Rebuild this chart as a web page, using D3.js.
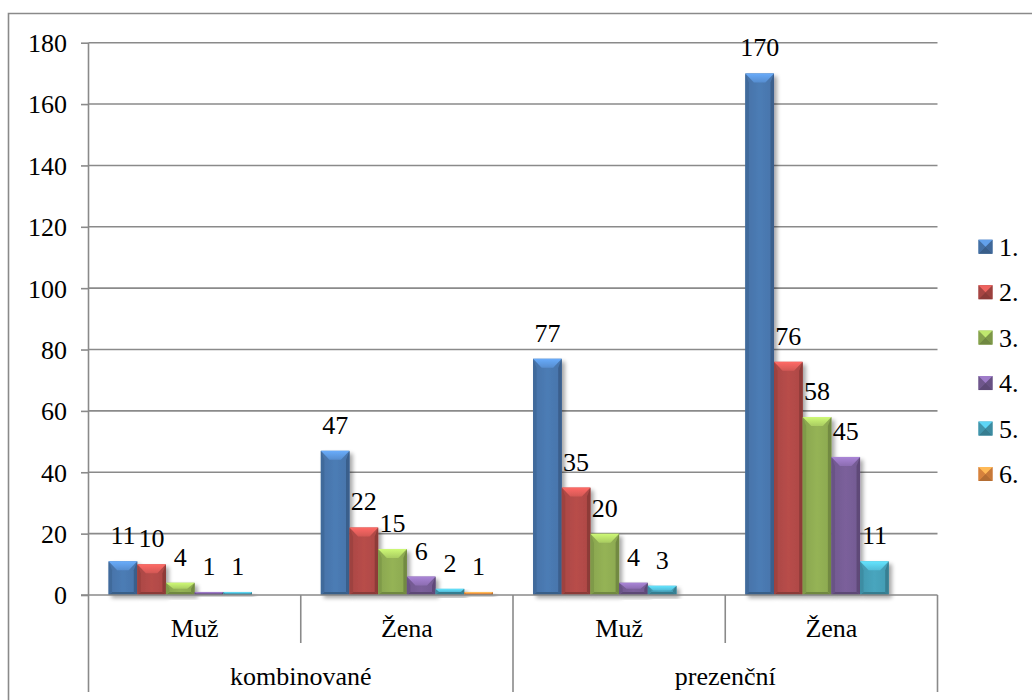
<!DOCTYPE html>
<html><head><meta charset="utf-8">
<script src="https://cdn.jsdelivr.net/npm/d3@7"></script>
</head><body style="margin:0;padding:0;background:#fff;">
<svg id="c" width="1032" height="700" style="display:block;"></svg>
<script>
// ---- data ----
const studyForms = ["kombinované", "prezenční"];
const genders = ["Muž", "Žena"];
const seriesNames = ["1.", "2.", "3.", "4.", "5.", "6."];
const yTicks = [0, 20, 40, 60, 80, 100, 120, 140, 160, 180];
const s1 = [11, 47, 77, 170];
const s2 = [10, 22, 35, 76];
const s3 = [4, 15, 20, 58];
const s4 = [1, 6, 4, 45];
const s5 = [1, 2, 3, 11];
const s6 = [null, 1, null, null];
const seriesValues = [s1, s2, s3, s4, s5, s6];
const seriesColors = ["#4F81BD", "#C0504D", "#9BBB59", "#8064A2", "#4BACC6", "#F79646"];

// ---- layout ----
const svg = d3.select("#c");
const L = 88.5, R = 937.5, T = 42.7, B = 595, AXB = 692, MID = 643;
const gridCol = "#8a8a8a";
const TEXT_STYLE = "font-family:'Liberation Serif', Tinos, 'Times New Roman' !important; font-size:26px !important; fill:#000;";

const groups = [];
studyForms.forEach(f => genders.forEach(g => groups.push({form: f, gender: g, key: f + "|" + g})));

const y = d3.scaleLinear().domain([0, 180]).range([B, T]);
const x0 = d3.scaleBand().domain(groups.map(d => d.key)).range([L, R]);
const x1 = d3.scaleBand().domain(seriesNames).range([0, x0.bandwidth()]).paddingInner(0).paddingOuter(0.70);
const xForm = d3.scaleBand().domain(studyForms).range([L, R]);

const defs = svg.append("defs");
const f = defs.append("filter").attr("id", "sh").attr("x", "-30%").attr("y", "-30%").attr("width", "170%").attr("height", "170%");
f.append("feGaussianBlur").attr("in", "SourceAlpha").attr("stdDeviation", 2.2);
f.append("feOffset").attr("dx", 2.5).attr("dy", 2.5).attr("result", "ob");
f.append("feComponentTransfer").append("feFuncA").attr("type", "linear").attr("slope", 0.35);
const fm = f.append("feMerge");
fm.append("feMergeNode");
fm.append("feMergeNode").attr("in", "SourceGraphic");

seriesColors.forEach((c, i) => {
  const base = d3.color(c);
  const g = defs.append("linearGradient").attr("id", "g" + i).attr("x1", 0).attr("x2", 1).attr("y1", 0).attr("y2", 0);
  g.append("stop").attr("offset", 0).attr("stop-color", base.darker(0.35));
  g.append("stop").attr("offset", 0.5).attr("stop-color", base.darker(0.12));
  g.append("stop").attr("offset", 1).attr("stop-color", base.darker(0.3));
  const t = defs.append("linearGradient").attr("id", "t" + i).attr("x1", 0).attr("x2", 0).attr("y1", 0).attr("y2", 1);
  t.append("stop").attr("offset", 0).attr("stop-color", base.brighter(0.8));
  t.append("stop").attr("offset", 1).attr("stop-color", base.brighter(0.25));
});

function styleText(sel) {
  return sel.attr("font-family", "Liberation Serif").attr("font-size", 26).attr("style", TEXT_STYLE);
}
function txt(g) { return styleText(g.append("text")); }

// outer chart border (extends past the right/bottom edge)
svg.append("path").attr("d", "M8.5,708 V13.5 H1040").attr("fill", "none").attr("stroke", gridCol).attr("stroke-width", 1.6);

// gridlines
svg.append("g").selectAll("line").data(yTicks.filter(v => v > 0)).join("line")
  .attr("x1", L).attr("x2", R).attr("y1", d => y(d)).attr("y2", d => y(d))
  .attr("stroke", gridCol).attr("stroke-width", 1.6);

// y axis
const yAxis = d3.axisLeft(y).tickValues(yTicks).tickSize(7.5).tickPadding(14).tickSizeOuter(0);
const ya = svg.append("g").attr("transform", `translate(${L},0)`).call(yAxis);
ya.attr("font-family", "Liberation Serif").attr("font-size", 26);
ya.select(".domain").remove();
ya.selectAll(".tick line").attr("stroke", gridCol).attr("stroke-width", 1.6);
styleText(ya.selectAll(".tick text")).attr("dy", "0.34em");
svg.append("line").attr("x1", L).attr("x2", L).attr("y1", T).attr("y2", AXB).attr("stroke", gridCol).attr("stroke-width", 1.6);

// bars
const barsG = svg.append("g");
function bevelBar(g, x, yy, w, h, i) {
  const base = d3.color(seriesColors[i]);
  const bt = Math.min(9, h / 2, w / 2), bs = Math.min(3.5, w / 2, h / 2), bb = Math.min(3, h / 2);
  const gg = g.append("g").attr("filter", "url(#sh)");
  gg.append("rect").attr("x", x).attr("y", yy).attr("width", w).attr("height", h).attr("fill", `url(#g${i})`);
  const poly = (pts, fill) => gg.append("polygon").attr("points", pts.map(p => p.join(",")).join(" ")).attr("fill", fill);
  poly([[x, yy + h], [x + bs, yy + h - bb], [x + w - bs, yy + h - bb], [x + w, yy + h]], base.darker(0.9));
  poly([[x, yy], [x + bs, yy + bt], [x + bs, yy + h - bb], [x, yy + h]], base.darker(0.55));
  poly([[x + w, yy], [x + w - bs, yy + bt], [x + w - bs, yy + h - bb], [x + w, yy + h]], base.darker(0.85));
  const inset = Math.min(w * 0.3, bt * 1.2);
  poly([[x, yy], [x + w, yy], [x + w - inset, yy + bt], [x + inset, yy + bt]], `url(#t${i})`);
}
groups.forEach((grp, gi) => {
  seriesNames.forEach((s, si) => {
    const v = seriesValues[si][gi];
    if (v == null) return;
    const bx = x0(grp.key) + x1(s);
    const w = x1.bandwidth();
    const top = y(v);
    bevelBar(barsG, bx, top, w, B - top, si);
    txt(barsG).attr("x", bx + w / 2).attr("y", top - 17).attr("text-anchor", "middle").text(v);
  });
});

// zero line
svg.append("line").attr("x1", L - 7.5).attr("x2", R).attr("y1", B).attr("y2", B).attr("stroke", gridCol).attr("stroke-width", 1.6);

// category axis
const ca = svg.append("g");
groups.forEach((grp, gi) => {
  const gx = x0(grp.key);
  ca.append("line").attr("x1", gx + x0.bandwidth()).attr("x2", gx + x0.bandwidth()).attr("y1", B)
    .attr("y2", grp.gender === genders[genders.length - 1] ? AXB : MID)
    .attr("stroke", gridCol).attr("stroke-width", 1.6);
  txt(ca).attr("x", gx + x0.bandwidth() / 2).attr("y", 637).attr("text-anchor", "middle").text(grp.gender);
});
studyForms.forEach(fm => {
  txt(ca).attr("x", xForm(fm) + xForm.bandwidth() / 2).attr("y", 685).attr("text-anchor", "middle").text(fm);
});

// legend
const leg = svg.append("g");
const ly = d3.scalePoint().domain(seriesNames).range([246.7, 474]);
seriesNames.forEach((s, i) => {
  const cy = ly(s);
  const base = d3.color(seriesColors[i]);
  const x = 978.5, yy = cy - 7, w = 14, h = 14, b = 7;
  const poly = (pts, fill) => leg.append("polygon").attr("points", pts.map(p => p.join(",")).join(" ")).attr("fill", fill);
  poly([[x, yy], [x + w, yy], [x + w, yy + h], [x, yy + h]], base.darker(0.3));
  poly([[x, yy + h], [x + b, yy + b], [x + w, yy + h]], base.darker(0.9));
  poly([[x, yy], [x + b, yy + b], [x, yy + h]], base.darker(0.4));
  poly([[x + w, yy], [x + b, yy + b], [x + w, yy + h]], base.darker(0.6));
  poly([[x, yy], [x + w, yy], [x + b, yy + b]], base.brighter(0.6));
  txt(leg).attr("x", 999).attr("y", cy + 9).text(s);
});
</script>
</body></html>
